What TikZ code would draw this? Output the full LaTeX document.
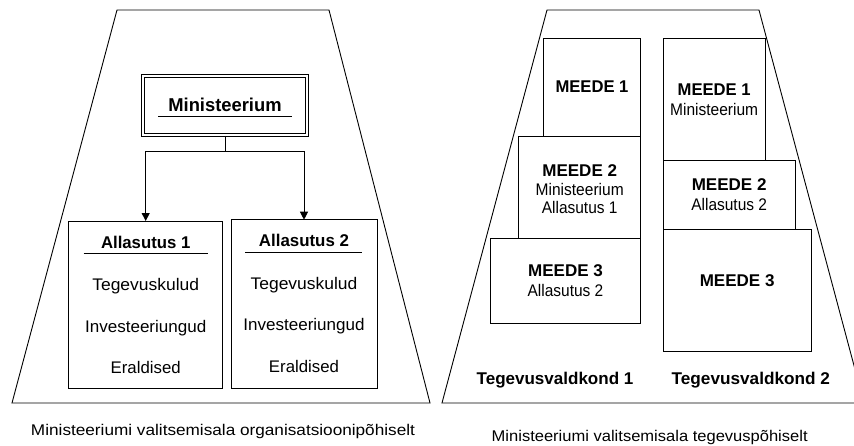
\documentclass[tikz,border=0pt]{standalone}
\usepackage{fontspec}
\usepackage{graphicx}
\setmainfont{Liberation Sans}
\usetikzlibrary{arrows.meta}
\newcommand{\txw}[2]{\resizebox{#1}{\height}{#2}}
\begin{document}
\begin{tikzpicture}[x=1pt,y=-1pt,
  box/.style={draw,line width=0.9pt,inner sep=0pt,outer sep=0pt},
  txt/.style={inner sep=0pt,anchor=base,font=\fontsize{16.8}{20}\selectfont},
  btxt/.style={txt,font=\fontsize{17}{20}\selectfont\bfseries},
  captxt/.style={txt,font=\fontsize{15.5}{18}\selectfont},
  ln/.style={line width=0.9pt},
  arr/.style={line width=0.9pt,-{Triangle[width=8pt,length=8pt]}}]
\useasboundingbox (0,0) rectangle (854,445);
\clip (0,0) rectangle (854,445);
% trapezoids
\draw[ln] (117,10) -- (329,10) -- (430,403) -- (12,403) -- cycle;
\draw[ln] (547,10) -- (759,10) -- (864,403) -- (442,403) -- cycle;
% left: organisation
\node[box,minimum width=166.3pt,minimum height=61.3pt] (min) at (225,105.3) {};
\draw[line width=0.8pt] ([xshift=2.6pt,yshift=-2.6pt]min.north west) rectangle ([xshift=-2.6pt,yshift=2.6pt]min.south east);
\node[btxt,font=\fontsize{18.6}{22}\selectfont\bfseries] (mint) at (225,111) {\txw{113.3pt}{Ministeerium}};
\draw[ln] (158,116) -- (292,116);
\node[box,minimum width=154pt,minimum height=167pt] (a1) at (145.7,304.5) {};
\node[box,minimum width=146pt,minimum height=168.3pt] (a2) at (304,303.85) {};
\coordinate (j) at (225,151);
\draw[ln] (min.south) -- (j);
\draw[arr] (j) -| (a1.north);
\draw[arr] (j) -| (a2.north);
\node[btxt] (a1t) at (145.7,248.5) {\txw{89.3pt}{Allasutus 1}};
\draw[ln] (83.7,253.3) -- (207.7,253.3);
\node[btxt] (a2t) at (304,246.7) {\txw{90pt}{Allasutus 2}};
\draw[ln] (245,252) -- (362,252);
\node[txt] (a1x) at (145.7,290.5) {\txw{106.7pt}{Tegevuskulud}};
\node[txt] (a1y) at (145.7,332.2) {\txw{121.3pt}{Investeeriungud}};
\node[txt] (a1z) at (145.7,373.9) {\txw{70pt}{Eraldised}};
\node[txt] (a2x) at (304,289) {\txw{106.7pt}{Tegevuskulud}};
\node[txt] (a2y) at (304,330.7) {\txw{121.3pt}{Investeeriungud}};
\node[txt] (a2z) at (304,372.4) {\txw{70pt}{Eraldised}};
\node[captxt] (capL) at (223,435) {\txw{384pt}{Ministeeriumi valitsemisala organisatsioonipõhiselt}};
% right: activity
\node[box,minimum width=97.4pt,minimum height=97.7pt] (m1L) at (592,87.15) {};
\node[box,minimum width=122pt,minimum height=102pt] (m2L) at (579.7,187) {};
\node[box,minimum width=150.4pt,minimum height=85.3pt] (m3L) at (565.5,280.65) {};
\node[box,minimum width=101.7pt,minimum height=121.7pt] (m1R) at (714.15,99.15) {};
\node[box,minimum width=131.7pt,minimum height=69.7pt] (m2R) at (729.15,194.85) {};
\node[box,minimum width=147.7pt,minimum height=122pt] (m3R) at (737.15,290.7) {};
\node[btxt] at (592,92.3) {\txw{73pt}{MEEDE 1}};
\node[btxt] at (579.7,176) {\txw{74.7pt}{MEEDE 2}};
\node[txt] at (579.7,195) {\txw{88pt}{Ministeerium}};
\node[txt] at (579.7,213.3) {\txw{75.7pt}{Allasutus 1}};
\node[btxt] at (565.5,276.7) {\txw{74.7pt}{MEEDE 3}};
\node[txt] at (565.5,296) {\txw{75.7pt}{Allasutus 2}};
\node[btxt] at (714.15,95.7) {\txw{73pt}{MEEDE 1}};
\node[txt] at (714.15,115) {\txw{88pt}{Ministeerium}};
\node[btxt] at (729.15,190.7) {\txw{74.7pt}{MEEDE 2}};
\node[txt] at (729.15,210) {\txw{75.7pt}{Allasutus 2}};
\node[btxt] at (737.15,286.7) {\txw{74.7pt}{MEEDE 3}};
\node[btxt] (t1) at (555,384) {\txw{156.7pt}{Tegevusvaldkond 1}};
\node[btxt] (t2) at (750.8,384) {\txw{158.3pt}{Tegevusvaldkond 2}};
\node[captxt] (capR) at (649.7,441.7) {\txw{316pt}{Ministeeriumi valitsemisala tegevuspõhiselt}};
\end{tikzpicture}
\end{document}
